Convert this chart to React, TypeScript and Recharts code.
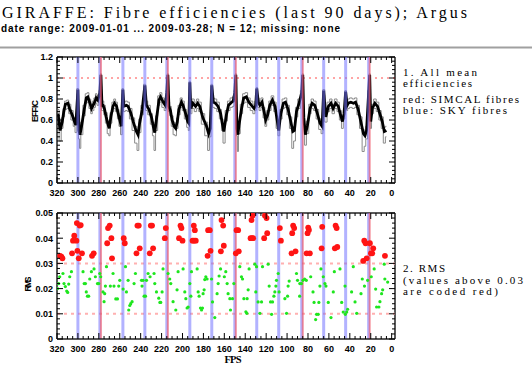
import React from 'react';
import {
  ComposedChart,
  Line,
  Scatter,
  XAxis,
  YAxis,
  ReferenceLine,
} from 'recharts';

// fibre positions of the special fibres
const SKY_FIBRES = [300, 279, 257, 236, 215, 193, 172, 150, 129, 108, 86, 65, 44, 22];
const SIMCAL_FIBRES = [278, 214, 149, 85, 21];

// panel 1: mean efficiency per fibre (one line per sub-slit block)
const FPS = [
  319, 317, 315, 313.5, 312, 309.5, 308, 305.5, 303.5, 302, 300,
  299, 298, 296.5, 294, 292, 290.5, 288.5, 287, 285.5, 284, 282.5, 281, 279, 278,
  277, 276, 274.5, 273, 271, 270, 268.5, 266.5, 265, 263, 261.5, 260, 258.5, 257,
  256, 253.5, 252, 249.5, 247, 244.5, 242.5, 241, 238.5, 236,
  234.5, 232, 229.5, 228, 226.5, 225, 222.5, 221, 218.5, 216.5, 215, 214,
  213, 211.5, 210, 208, 206.5, 205, 203.5, 201, 199.5, 197, 195, 194, 193,
  192, 190, 187.5, 185.5, 183.5, 180.5, 177, 175, 173.5, 172,
  170.5, 168.5, 166, 163.5, 162, 160.5, 158, 156, 153, 151.5, 150, 149,
  148, 147, 146, 143.5, 141.5, 139, 136.5, 134, 131.5, 130, 129,
  127.5, 126, 124, 122, 120.5, 118.5, 116.5, 114, 111.5, 109.5, 108,
  106, 103.5, 101.5, 99, 96.5, 94.5, 93, 91, 88.5, 86, 85,
  84, 82.5, 80.5, 78, 76, 73.5, 71, 68.5, 66.5, 65,
  63, 60.5, 58, 56, 53.5, 51, 49, 47, 45.5, 44,
  42.5, 41.5, 39, 36.5, 34.5, 32, 29.5, 27, 25.5, 24, 22, 21,
  20, 18.5, 16, 13.5, 11, 9, 7, 5,
];
const EFFIC = [
  0.66, 0.5, 0.58, 0.68, 0.75, 0.76, 0.71, 0.65, 0.59, 0.55, 0.89,
  0.5, 0.46, 0.54, 0.7, 0.81, 0.82, 0.76, 0.71, 0.74, 0.77, 0.81, 0.79, 0.86, 1.03,
  0.74, 0.74, 0.7, 0.63, 0.55, 0.52, 0.63, 0.73, 0.76, 0.73, 0.66, 0.6, 0.54, 0.89,
  0.73, 0.74, 0.73, 0.67, 0.58, 0.5, 0.46, 0.57, 0.7, 0.93,
  0.74, 0.7, 0.62, 0.54, 0.48, 0.6, 0.79, 0.82, 0.77, 0.74, 0.86, 1.03,
  0.73, 0.69, 0.6, 0.54, 0.52, 0.58, 0.7, 0.77, 0.74, 0.66, 0.585, 0.57, 0.96,
  0.71, 0.76, 0.73, 0.76, 0.73, 0.62, 0.54, 0.47, 0.52, 0.93,
  0.77, 0.76, 0.73, 0.66, 0.57, 0.49, 0.65, 0.74, 0.77, 0.78, 0.86, 1.03,
  0.52, 0.46, 0.55, 0.71, 0.81, 0.82, 0.77, 0.74, 0.71, 0.74, 0.9,
  0.77, 0.74, 0.77, 0.68, 0.6, 0.65, 0.74, 0.79, 0.73, 0.6, 0.5,
  0.66, 0.76, 0.77, 0.7, 0.585, 0.49, 0.5, 0.68, 0.76, 0.86, 1.03,
  0.62, 0.46, 0.55, 0.71, 0.76, 0.74, 0.66, 0.57, 0.54, 0.88,
  0.63, 0.73, 0.76, 0.71, 0.76, 0.73, 0.65, 0.585, 0.66, 0.87,
  0.74, 0.76, 0.77, 0.76, 0.77, 0.7, 0.585, 0.47, 0.45, 0.5, 0.86, 1.03,
  0.585, 0.71, 0.76, 0.73, 0.65, 0.585, 0.49, 0.5,
];
const EFFIC_LO = [
  0.6, 0.4, 0.52, 0.63, 0.7, 0.71, 0.66, 0.6, 0.54, 0.48, 0.85,
  0.42, 0.33, 0.46, 0.64, 0.76, 0.77, 0.71, 0.66, 0.69, 0.72, 0.76, 0.74, 0.82, 0.99,
  0.69, 0.69, 0.65, 0.57, 0.47, 0.45, 0.57, 0.68, 0.71, 0.68, 0.61, 0.54, 0.46, 0.85,
  0.68, 0.69, 0.68, 0.61, 0.5, 0.38, 0.31, 0.48, 0.65, 0.89,
  0.69, 0.65, 0.56, 0.45, 0.31, 0.5, 0.74, 0.77, 0.72, 0.69, 0.82, 0.99,
  0.68, 0.64, 0.54, 0.46, 0.45, 0.52, 0.65, 0.72, 0.69, 0.61, 0.53, 0.5, 0.92,
  0.66, 0.71, 0.68, 0.71, 0.68, 0.56, 0.45, 0.31, 0.44, 0.89,
  0.72, 0.71, 0.68, 0.61, 0.5, 0.38, 0.59, 0.69, 0.72, 0.73, 0.82, 0.99,
  0.45, 0.3, 0.47, 0.66, 0.76, 0.77, 0.72, 0.69, 0.66, 0.69, 0.86,
  0.72, 0.69, 0.72, 0.62, 0.54, 0.6, 0.69, 0.74, 0.68, 0.52, 0.45,
  0.61, 0.71, 0.72, 0.65, 0.52, 0.33, 0.4, 0.63, 0.71, 0.82, 0.99,
  0.56, 0.36, 0.47, 0.66, 0.71, 0.69, 0.61, 0.51, 0.47, 0.84,
  0.58, 0.68, 0.71, 0.66, 0.71, 0.68, 0.6, 0.52, 0.61, 0.83,
  0.69, 0.71, 0.72, 0.71, 0.72, 0.65, 0.52, 0.3, 0.35, 0.42, 0.82, 0.99,
  0.52, 0.66, 0.71, 0.68, 0.6, 0.52, 0.38, 0.44,
];
const EFFIC_HI = [
  0.7, 0.54, 0.62, 0.71, 0.78, 0.79, 0.75, 0.69, 0.62, 0.58, 0.9,
  0.54, 0.5, 0.58, 0.74, 0.85, 0.86, 0.8, 0.75, 0.78, 0.81, 0.85, 0.83, 0.88, 1.04,
  0.78, 0.78, 0.74, 0.67, 0.59, 0.56, 0.67, 0.77, 0.8, 0.77, 0.7, 0.64, 0.58, 0.9,
  0.77, 0.78, 0.77, 0.71, 0.62, 0.54, 0.5, 0.61, 0.74, 0.94,
  0.78, 0.74, 0.66, 0.58, 0.52, 0.64, 0.83, 0.86, 0.81, 0.78, 0.88, 1.04,
  0.77, 0.73, 0.64, 0.58, 0.56, 0.62, 0.74, 0.81, 0.78, 0.7, 0.62, 0.61, 0.97,
  0.75, 0.8, 0.77, 0.8, 0.77, 0.66, 0.58, 0.51, 0.56, 0.94,
  0.81, 0.8, 0.77, 0.7, 0.61, 0.53, 0.69, 0.78, 0.81, 0.82, 0.88, 1.04,
  0.56, 0.5, 0.59, 0.75, 0.85, 0.86, 0.81, 0.78, 0.75, 0.78, 0.91,
  0.81, 0.78, 0.81, 0.72, 0.64, 0.69, 0.78, 0.83, 0.77, 0.64, 0.58,
  0.7, 0.8, 0.81, 0.74, 0.63, 0.53, 0.54, 0.72, 0.8, 0.88, 1.04,
  0.66, 0.5, 0.59, 0.75, 0.8, 0.78, 0.7, 0.61, 0.58, 0.89,
  0.67, 0.77, 0.8, 0.75, 0.8, 0.77, 0.69, 0.63, 0.7, 0.88,
  0.78, 0.8, 0.81, 0.8, 0.81, 0.74, 0.63, 0.51, 0.49, 0.54, 0.88, 1.04,
  0.63, 0.75, 0.8, 0.77, 0.69, 0.63, 0.53, 0.54,
];

// panel 2: rms per fibre
const RMS_FPS = [
  319.5, 318.4, 317.4, 317, 315.8, 314.8, 314.3, 313.3, 312, 310.7, 309.8, 308.8, 307.8, 306.2,
  305.6, 304.7, 303.5, 301.4, 301, 300.5, 299.2, 298.3, 297.3, 296.1, 295.1, 294, 292.8, 292,
  290.9, 289.7, 288.7, 287.1, 286.5, 284.9, 284.6, 283.3, 281.3, 280.1, 279.1, 278.2, 276, 275,
  274.4, 273.7, 272.7, 272, 271.2, 269.6, 269, 268, 267.4, 266.4, 265.5, 263.8, 262.2, 261, 260,
  256.8, 256.2, 255.2, 254.5, 253.6, 252, 251.4, 250.4, 249.5, 248.2, 246.3, 245, 244, 243.1,
  241.8, 240.9, 239.2, 238.7, 237.7, 236.7, 235.4, 234.4, 232.9, 231.3, 231, 230.3, 229.1, 228.1,
  227.2, 226.5, 224.9, 222.7, 221.6, 220.8, 219.5, 218.6, 216.9, 216, 213.8, 212.2, 211.2, 209,
  206.4, 205.2, 204.2, 203.3, 201.9, 201, 200, 199.4, 197.8, 196.8, 195.6, 194.6, 193, 192, 191.4,
  190.4, 189.2, 189, 188.2, 187.3, 186, 185, 184.1, 182.8, 181.8, 180.9, 180.3, 179.3, 178.7,
  177.7, 176.5, 176, 175.5, 173.9, 173.2, 172.2, 171.3, 169.1, 166.9, 165.9, 165, 163.6, 163.3,
  162.7, 161.1, 160.5, 160, 158.6, 157.3, 156.4, 154.7, 154.1, 152.2, 150.9, 149, 148.3, 146.8,
  146.2, 145.2, 143.6, 142.6, 141.3, 139.4, 138.5, 138.2, 137.2, 136.3, 134.9, 134, 133.5, 133,
  132.4, 130.8, 129.9, 129.2, 127.7, 126, 124.4, 123.5, 121.9, 121.2, 119.6, 119, 118.1, 117.1,
  115.8, 114.8, 113.9, 112.6, 111.7, 110.7, 110.1, 108.5, 107.6, 106.9, 105.9, 102.1, 100.5, 99.5,
  99, 98, 95.7, 95.1, 94.2, 93.2, 91.9, 91, 90, 88, 87.8, 86.2, 84.8, 83.2, 81.6, 81.3, 80.4, 79.8,
  79.1, 78.2, 77.4, 75.2, 74.2, 72.7, 71.8, 70.2, 69.6, 68.6, 67.6, 67, 66.4, 65.4, 63.8, 62.8,
  60.6, 58, 55.8, 54.8, 54.3, 53.6, 52.6, 52, 49.4, 47.8, 46.3, 44.6, 44.3, 43, 42.1, 38.3, 36.7,
  35, 33.4, 29.3, 28.1, 27.2, 26.2, 26, 24.9, 23.9, 23, 20.8, 19.8, 19.5, 18.6, 17.6, 16.7, 15.3,
  14.4, 12.2, 11.2, 9.6, 8.6, 7.1, 6.5, 6.4, 3.8,
];
const RMS = [
  0.02, 0.022, 0.0247, 0.033, 0.0327, 0.032, 0.026, 0.022, 0.0208, 0.019, 0.0185, 0.0218, 0.0247, 0.0267,
  0.034, 0.039, 0.041, 0.039, 0.046, 0.035, 0.032, 0.045, 0.0452, 0.034, 0.0267, 0.022, 0.022, 0.0187,
  0.017, 0.017, 0.0238, 0.0267, 0.033, 0.034, 0.0278, 0.0247, 0.022, 0.022, 0.026, 0.0247, 0.0187, 0.0148,
  0.018, 0.021, 0.0287, 0.038, 0.044, 0.045, 0.021, 0.04, 0.032, 0.026, 0.021, 0.0159, 0.0159, 0.021, 0.0233,
  0.0198, 0.04, 0.038, 0.0287, 0.0187, 0.0233, 0.0115, 0.0133, 0.014, 0.0148, 0.022, 0.026, 0.034, 0.045,
  0.045, 0.036, 0.0233, 0.021, 0.0233, 0.017, 0.017, 0.0233, 0.026, 0.034, 0.0247, 0.045, 0.045, 0.036,
  0.026, 0.022, 0.0187, 0.0162, 0.0145, 0.0145, 0.0187, 0.0278, 0.04, 0.044, 0.026, 0.0238, 0.022, 0.0148,
  0.0115, 0.0195, 0.0267, 0.04, 0.045, 0.044, 0.039, 0.0278, 0.0187, 0.016, 0.0123, 0.0127, 0.022, 0.017, 0.0267,
  0.039, 0.045, 0.039, 0.0432, 0.039, 0.0278, 0.0187, 0.017, 0.0123, 0.0115, 0.0123, 0.018, 0.0195, 0.0236,
  0.0247, 0.0238, 0.033, 0.0432, 0.0432, 0.035, 0.0238, 0.0147, 0.0085, 0.018, 0.022, 0.025, 0.0278, 0.0348,
  0.0472, 0.045, 0.037, 0.0247, 0.0267, 0.022, 0.018, 0.016, 0.0115, 0.016, 0.022, 0.034, 0.0432, 0.0432,
  0.0348, 0.0287, 0.0247, 0.0238, 0.016, 0.0108, 0.0102, 0.016, 0.0195, 0.0278, 0.04, 0.0472, 0.04, 0.049,
  0.04, 0.0297, 0.0187, 0.0287, 0.0147, 0.0102, 0.0147, 0.0287, 0.04, 0.049, 0.048, 0.042, 0.0297, 0.021,
  0.0147, 0.0098, 0.0147, 0.017, 0.0187, 0.021, 0.0233, 0.026, 0.0187, 0.044, 0.039, 0.016, 0.0102, 0.017,
  0.021, 0.023, 0.034, 0.042, 0.045, 0.044, 0.0348, 0.026, 0.0233, 0.017, 0.022, 0.022, 0.0233, 0.0238, 0.0233, 0.034, 0.042, 0.0442,
  0.0433, 0.034, 0.0247, 0.0187, 0.0145, 0.0077, 0.0098, 0.0098, 0.0145, 0.021, 0.0278, 0.036, 0.0445, 0.0247, 0.022, 0.021,
  0.0145, 0.0085, 0.0187, 0.0267, 0.036, 0.045, 0.044, 0.0365, 0.0278, 0.0145, 0.0107, 0.021, 0.0098, 0.0107, 0.0118, 0.0187, 0.0287,
  0.0147, 0.0102, 0.018, 0.0238, 0.031, 0.039, 0.021, 0.038, 0.032, 0.0233, 0.038, 0.034, 0.0247, 0.034, 0.036, 0.0278, 0.0198,
  0.0127, 0.0127, 0.0148, 0.018, 0.0195, 0.0297, 0.0238, 0.033, 0.0226,
];
const RMS_LIMIT = 0.03;

// axis ticks
const X_MAJOR = [320, 300, 280, 260, 240, 220, 200, 180, 160, 140, 120, 100, 80, 60, 40, 20, 0];
const EFFIC_MAJOR = [0, 0.2, 0.4, 0.6, 0.8, 1, 1.2];
const RMS_MAJOR = [0, 0.01, 0.02, 0.03, 0.04, 0.05];

const X_MINOR = Array.from({ length: 65 }, (_, i) => i * 5);
const EFFIC_MINOR = Array.from({ length: 31 }, (_, i) => +(i * 0.04).toFixed(2));
const RMS_MINOR = Array.from({ length: 26 }, (_, i) => +(i * 0.002).toFixed(3));

const X_DOMAIN = [-3.2, 320];

const effData = FPS.map((f, i) => ({ fps: f, mean: EFFIC[i], lo: EFFIC_LO[i], hi: EFFIC_HI[i] }));
const rmsPts = RMS_FPS.map((f, i) => ({ fps: f, rms: RMS[i] }));
const redPts = rmsPts.filter((p) => p.rms > RMS_LIMIT);
const greenPts = rmsPts.filter((p) => p.rms <= RMS_LIMIT);

// plot box size (same for both panels)
const PLOT_W = 338;
const PLOT_H = 126;

const TICK_FONT = {
  fontFamily: '"Liberation Sans", Arial, sans-serif',
  fontSize: 9,
  fontWeight: 700,
  fill: '#000',
};
const SERIF = '"Liberation Serif", "DejaVu Serif", serif';
const SANS = '"Liberation Sans", Arial, sans-serif';

const isMajor = (v: number, majors: number[]) => majors.some((m) => Math.abs(m - v) < 1e-9);

// bottom axis tick: inward tick at bottom and at top of the box, label below
const xTick = (props: any) => {
  const { x, y, payload } = props;
  const v = payload.value as number;
  const major = isMajor(v, X_MAJOR);
  const len = major ? 6 : 3;
  const top = y - PLOT_H;
  return (
    <g>
      <line x1={x} x2={x} y1={y} y2={y - len} stroke="#000" />
      <line x1={x} x2={x} y1={top} y2={top + len} stroke="#000" />
      {major && (
        <text x={x} y={y + 13} textAnchor="middle" {...TICK_FONT}>
          {v}
        </text>
      )}
    </g>
  );
};

function yTick(majors: number[]) {
  return (props: any) => {
    const { x, y, payload } = props;
    const v = payload.value as number;
    const major = isMajor(v, majors);
    const len = major ? 6 : 3;
    const right = x + PLOT_W;
    return (
      <g>
        <line x1={x} x2={x + len} y1={y} y2={y} stroke="#000" />
        <line x1={right} x2={right - len} y1={y} y2={y} stroke="#000" />
        {major && (
          <text x={x - 4} y={y + 3.3} textAnchor="end" {...TICK_FONT}>
            {String(v)}
          </text>
        )}
      </g>
    );
  };
}

const AXIS_LINE = { stroke: '#222', strokeWidth: 1.5 };

function fibreLines() {
  return [
    ...SKY_FIBRES.map((f) => (
      <ReferenceLine
        key={'sky' + f}
        x={f}
        stroke="#7272ff"
        strokeOpacity={0.55}
        strokeWidth={3}
      />
    )),
    ...SIMCAL_FIBRES.map((f) => (
      <ReferenceLine
        key={'sim' + f}
        x={f}
        stroke="#ff5050"
        strokeOpacity={0.55}
        strokeWidth={2}
      />
    )),
  ];
}

function axes(domainY: number[], minorY: number[], majorY: number[]) {
  return [
    <XAxis
      key="xb"
      dataKey="fps"
      type="number"
      domain={X_DOMAIN}
      reversed
      allowDataOverflow
      ticks={X_MINOR}
      interval={0}
      height={1}
      tickSize={0}
      tickMargin={0}
      tickLine={false}
      axisLine={AXIS_LINE}
      tick={xTick}
    />,
    <YAxis
      key="yl"
      type="number"
      domain={domainY}
      allowDataOverflow
      ticks={minorY}
      interval={0}
      width={40}
      tickSize={0}
      tickMargin={0}
      tickLine={false}
      axisLine={AXIS_LINE}
      tick={yTick(majorY)}
    />,
    // top and right edges of the box
    <ReferenceLine key="ftop" y={domainY[1]} stroke="#222" strokeWidth={1.5} />,
    <ReferenceLine key="fright" x={X_DOMAIN[0]} stroke="#222" strokeWidth={1.5} />,
  ];
}

function EfficChart() {
  return (
    <ComposedChart
      width={532}
      height={372}
      data={effData}
      margin={{ top: 57, right: 137, bottom: 188, left: 17 }}
    >
      {axes([0, 1.2], EFFIC_MINOR, EFFIC_MAJOR)}
      <ReferenceLine y={1} stroke="#ff4a4a" strokeWidth={1} strokeDasharray="2 4" />
      <Line dataKey="lo" type="step" stroke="#8a8a8a" strokeWidth={1} dot={false} isAnimationActive={false} />
      <Line dataKey="hi" type="step" stroke="#8a8a8a" strokeWidth={1} dot={false} isAnimationActive={false} />
      <Line dataKey="mean" type="linear" stroke="#000" strokeWidth={2.8} dot={false} isAnimationActive={false} />
      {fibreLines()}
    </ComposedChart>
  );
}

const GreenDot = (p: any) => <circle cx={p.cx} cy={p.cy} r={1.6} fill="#1ee61e" />;
const RedDot = (p: any) => <circle cx={p.cx} cy={p.cy} r={2.9} fill="#ff1414" />;

function RmsChart() {
  return (
    <ComposedChart
      width={532}
      height={372}
      margin={{ top: 213, right: 137, bottom: 32, left: 17 }}
    >
      {axes([0, 0.05], RMS_MINOR, RMS_MAJOR)}
      <ReferenceLine y={0.03} stroke="#ffb0b0" strokeWidth={2} strokeDasharray="3 4" />
      <ReferenceLine y={0.01} stroke="#ffb0b0" strokeWidth={2} strokeDasharray="3 4" />
      {fibreLines()}
      <Scatter data={greenPts} dataKey="rms" shape={GreenDot} isAnimationActive={false} />
      <Scatter data={redPts} dataKey="rms" shape={RedDot} isAnimationActive={false} />
    </ComposedChart>
  );
}

function Texts() {
  return (
    <svg width={532} height={372} style={{ position: 'absolute', left: 0, top: 0, pointerEvents: 'none' }}>
      <text x={2} y={18} fontFamily={SERIF} fontSize={16} textLength={465} lengthAdjust="spacing">
        GIRAFFE: Fibre efficiencies (last 90 days); Argus
      </text>
      <text x={1} y={32} fontFamily={SANS} fontSize={10} fontWeight={700} textLength={339} lengthAdjust="spacing">
        date range: 2009-01-01 ... 2009-03-28; N = 12; missing: none
      </text>
      <line x1={0} x2={532} y1={47.5} y2={47.5} stroke="#a0a0a0" strokeWidth={2} />

      <text x={403} y={75.5} fontFamily={SERIF} fontSize={11} textLength={74} lengthAdjust="spacing">1. All mean</text>
      <text x={403} y={86.5} fontFamily={SERIF} fontSize={11} textLength={69} lengthAdjust="spacing">efficiencies</text>
      <text x={403} y={103} fontFamily={SERIF} fontSize={11} textLength={116} lengthAdjust="spacing">red: SIMCAL fibres</text>
      <text x={403} y={114} fontFamily={SERIF} fontSize={11} textLength={104} lengthAdjust="spacing">blue: SKY fibres</text>

      <text x={403} y={272} fontFamily={SERIF} fontSize={11} textLength={42} lengthAdjust="spacing">2. RMS</text>
      <text x={403} y={284} fontFamily={SERIF} fontSize={11} textLength={120} lengthAdjust="spacing">(values above 0.03</text>
      <text x={403} y={295} fontFamily={SERIF} fontSize={11} textLength={95} lengthAdjust="spacing">are coded red)</text>

      <text transform="translate(38,111) rotate(-90)" textAnchor="middle" fontFamily={SANS} fontSize={8.5} fontWeight={700} textLength={22} lengthAdjust="spacing">EFFIC</text>
      <text transform="translate(31,284) rotate(-90)" textAnchor="middle" fontFamily={SANS} fontSize={8.5} fontWeight={700} textLength={15} lengthAdjust="spacing">RMS</text>
      <text x={233} y={363} textAnchor="middle" fontFamily={SERIF} fontSize={10.5} fontWeight={700} textLength={17} lengthAdjust="spacing">FPS</text>
    </svg>
  );
}

export default function App() {
  return (
    <div style={{ position: 'absolute', left: 0, top: 0, width: 532, height: 372, background: '#fff', overflow: 'hidden' }}>
      <div style={{ position: 'absolute', left: 0, top: 0 }}>
        <EfficChart />
      </div>
      <div style={{ position: 'absolute', left: 0, top: 0 }}>
        <RmsChart />
      </div>
      <Texts />
    </div>
  );
}
